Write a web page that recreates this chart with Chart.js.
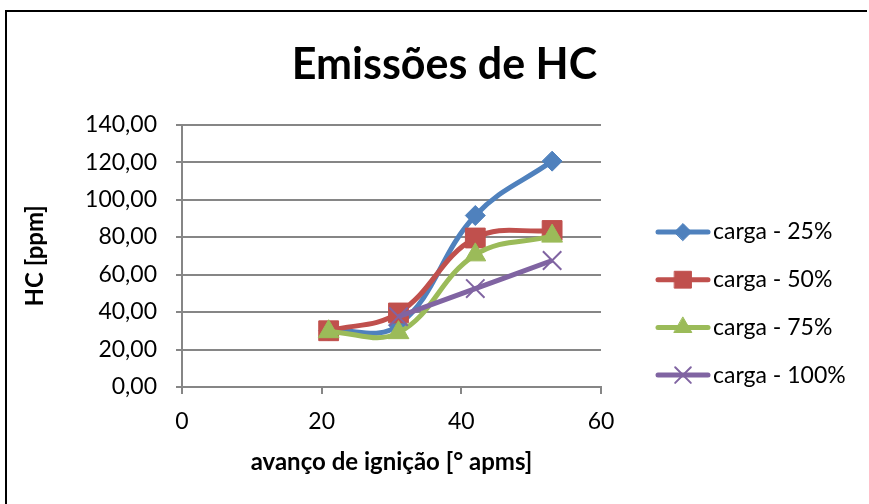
<!DOCTYPE html>
<html>
<head>
<meta charset="utf-8">
<script src="https://cdn.jsdelivr.net/npm/chart.js@4.4.0/dist/chart.umd.min.js"></script>
<style>
  html, body { margin: 0; padding: 0; background: #fff; }
</style>
</head>
<body>
<canvas id="myChart" width="869" height="504"></canvas>
<script>
// valores
var seriesNames = ['carga - 25%', 'carga - 50%', 'carga - 75%', 'carga - 100%'];
var avanco = [21, 31, 42, 53];
var avanco100 = [31, 42, 53];
var hc25 = [30, 33, 91.5, 120.5];
var hc50 = [30, 39.5, 79.5, 83.5];
var hc75 = [29.5, 29, 70.5, 80.5];
var hc100 = [37.5, 52.5, 67.5];
var yTicks = [0, 20, 40, 60, 80, 100, 120, 140];
var xTicks = [0, 20, 40, 60];

var FONT = 'Lato, "Open Sans", sans-serif';

function pts(xs, ys) {
  return xs.map(function(x, i) { return { x: x, y: ys[i] }; });
}

var colors = ['#4F81BD', '#C0504D', '#9BBB59', '#8064A2'];
var styles = ['rectRot', 'rect', 'triangle', 'crossRot'];
var radii = [10, 14, 12, 13];
var values = [pts(avanco, hc25), pts(avanco, hc50), pts(avanco, hc75), pts(avanco100, hc100)];

var datasets = values.map(function(v, i) {
  return {
    label: seriesNames[i],
    data: v,
    borderColor: colors[i],
    backgroundColor: colors[i],
    borderWidth: 5,
    tension: 0.4,
    pointStyle: styles[i],
    pointRadius: radii[i],
    pointBorderWidth: i == 3 ? 2 : 1,
    pointBorderColor: colors[i],
    pointBackgroundColor: colors[i],
    order: 3 - i
  };
});

// moldura do grafico (canto superior esquerdo)
var frame = {
  id: 'frame',
  beforeDraw: function(chart) {
    var ctx = chart.ctx;
    ctx.save();
    ctx.strokeStyle = '#000';
    ctx.lineWidth = 2;
    ctx.beginPath();
    ctx.moveTo(6, chart.height);
    ctx.lineTo(6, 11);
    ctx.lineTo(chart.width - 2, 11);
    ctx.stroke();
    ctx.restore();
  }
};

// legenda com linha + marcador, como no Excel
var legendLines = {
  id: 'legendLines',
  afterDraw: function(chart) {
    var ctx = chart.ctx;
    chart.data.datasets.forEach(function(ds, i) {
      var y = 232 + i * 47.7;
      ctx.save();
      ctx.strokeStyle = ds.borderColor;
      ctx.lineWidth = 5;
      ctx.lineCap = 'round';
      ctx.beginPath();
      ctx.moveTo(658, y);
      ctx.lineTo(708, y);
      ctx.stroke();
      ctx.fillStyle = ds.pointBackgroundColor;
      ctx.strokeStyle = ds.pointBorderColor;
      ctx.lineWidth = ds.pointBorderWidth;
      Chart.helpers.drawPoint(ctx, {
        pointStyle: ds.pointStyle,
        radius: ds.pointRadius * 0.85,
        borderWidth: ds.pointBorderWidth
      }, 683, y);
      ctx.fillStyle = '#000';
      ctx.font = '23px ' + FONT;
      ctx.textBaseline = 'middle';
      ctx.textAlign = 'left';
      ctx.fillText(ds.label, 713, y);
      ctx.restore();
    });
  }
};

var ctx = document.getElementById('myChart');
var myChart = new Chart(ctx, {
  type: 'line',
  data: { datasets: datasets },
  plugins: [frame, legendLines],
  options: {
    responsive: false,
    animation: false,
    layout: { padding: { left: 20, right: 0, top: 0, bottom: 0 } },
    plugins: {
      legend: { display: false },
      tooltip: { enabled: false },
      title: {
        display: true,
        text: 'Emissões de HC',
        color: '#000',
        font: { family: FONT, size: 43, weight: 'bold' },
        padding: { top: 39, bottom: 34 }
      }
    },
    scales: {
      x: {
        type: 'linear',
        min: 0,
        max: 60,
        afterBuildTicks: function(scale) {
          scale.ticks = xTicks.map(function(v) { return { value: v }; });
        },
        afterFit: function(scale) { scale.height = 504 - 387; },
        grid: { drawOnChartArea: false, drawTicks: true, tickLength: 7, color: '#868686', lineWidth: 2 },
        border: { color: '#868686', width: 2 },
        ticks: { color: '#000', padding: 14, font: { family: FONT, size: 23 } },
        title: {
          display: true,
          text: 'avanço de ignição [° apms]',
          color: '#000',
          font: { family: FONT, size: 24, weight: 'bold' },
          padding: { top: 0, bottom: 27 }
        }
      },
      y: {
        min: 0,
        max: 140,
        afterBuildTicks: function(scale) {
          scale.ticks = yTicks.map(function(v) { return { value: v }; });
        },
        afterFit: function(scale) { scale.width = 162; },
        grid: { color: '#868686', lineWidth: 2, tickLength: 6 },
        border: { color: '#868686', width: 2 },
        ticks: {
          color: '#000',
          padding: 19,
          font: { family: FONT, size: 23 },
          callback: function(value) {
            return value.toFixed(2).replace('.', ',');
          }
        },
        title: {
          display: true,
          text: 'HC [ppm]',
          color: '#000',
          font: { family: FONT, size: 24, weight: 'bold' },
          padding: { top: 1, bottom: 0 }
        }
      },
      // eixo vazio so para reservar o espaco da legenda a direita
      legendSpace: {
        type: 'linear',
        position: 'right',
        axis: 'y',
        afterFit: function(scale) { scale.width = 268; },
        grid: { display: false },
        border: { display: false },
        ticks: { display: false }
      }
    }
  }
});
</script>
</body>
</html>
